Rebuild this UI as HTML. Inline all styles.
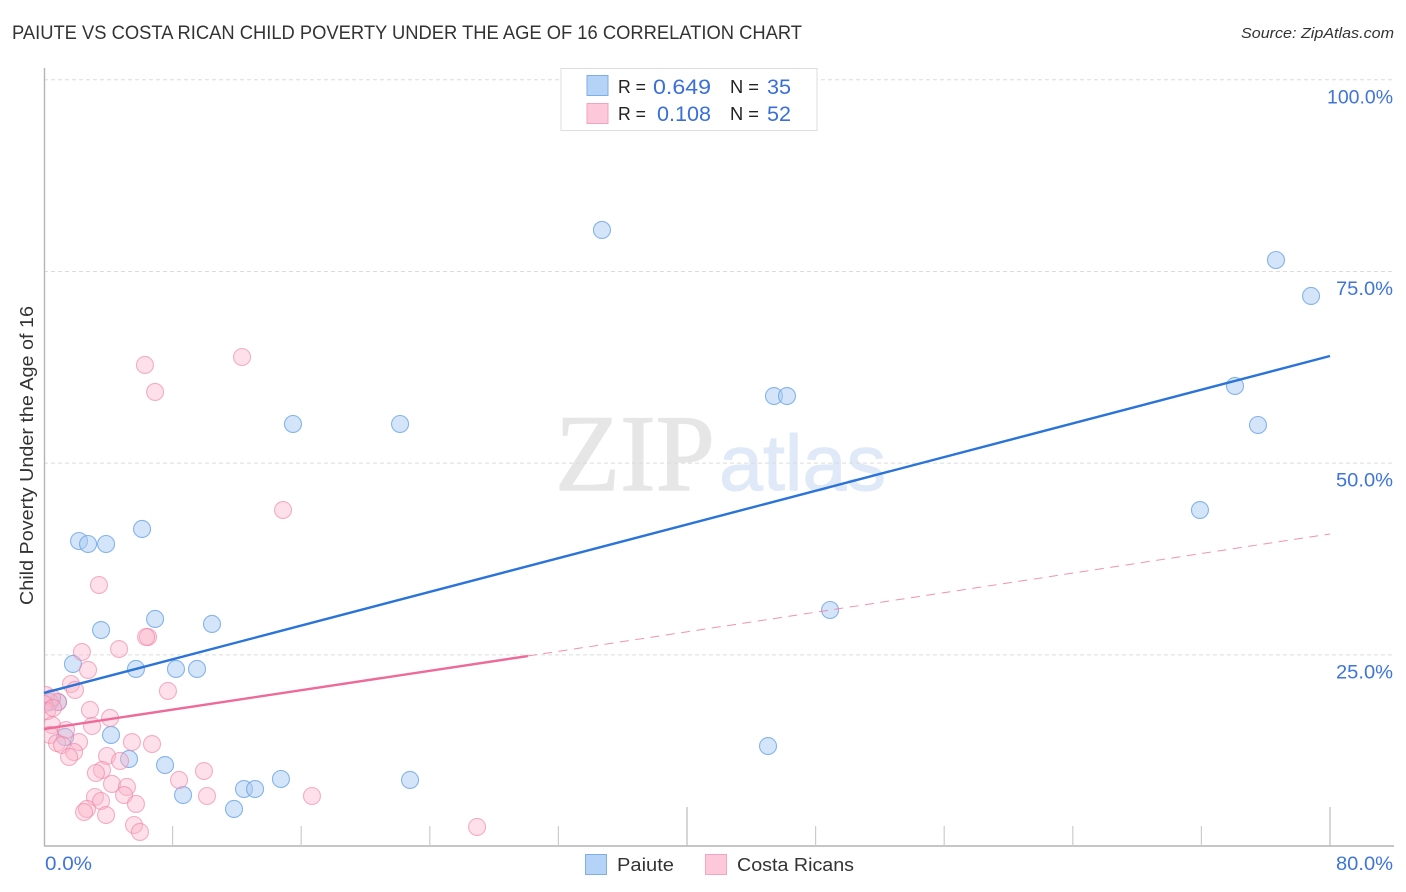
<!DOCTYPE html>
<html lang="en">
<head>
<meta charset="utf-8">
<title>Paiute vs Costa Rican Child Poverty Correlation Chart</title>
<style>
html,body{margin:0;padding:0;background:#fff;}
body{width:1406px;height:892px;overflow:hidden;}
svg{display:block;font-family:"Liberation Sans",sans-serif;}
</style>
</head>
<body>
<svg id="chart" xmlns="http://www.w3.org/2000/svg" width="1406" height="892" viewBox="0 0 1406 892">
  <defs>
    <clipPath id="plot-clip"><rect x="44" y="68" width="1350" height="778"></rect></clipPath>
  </defs>
  <rect x="0" y="0" width="1406" height="892" fill="#ffffff"></rect>
  <text x="12" y="39" font-size="19" fill="#333" textLength="790" lengthAdjust="spacingAndGlyphs">PAIUTE VS COSTA RICAN CHILD POVERTY UNDER THE AGE OF 16 CORRELATION CHART</text>
  <text x="1241" y="38" font-size="15" font-style="italic" fill="#333" textLength="153" lengthAdjust="spacingAndGlyphs">Source: ZipAtlas.com</text>
  <text x="555" y="490" font-family="'Liberation Serif',serif" font-size="109" fill="#e6e6e6" stroke="#e6e6e6" stroke-width="1.2" textLength="160" lengthAdjust="spacingAndGlyphs">ZIP</text>
  <text x="719" y="490" font-size="79" fill="#dfe9f8" stroke="#dfe9f8" stroke-width="1" textLength="167" lengthAdjust="spacingAndGlyphs">atlas</text>
  <g id="grid"></g>
  <g id="axes"></g>
  <g id="marks-blue" clip-path="url(#plot-clip)"></g>
  <g id="marks-pink" clip-path="url(#plot-clip)"></g>
  <g id="trends"></g>
  <g id="tick-labels"></g>
  <text transform="translate(33,605) rotate(-90)" x="0" y="0" font-size="18" fill="#333" textLength="299" lengthAdjust="spacingAndGlyphs">Child Poverty Under the Age of 16</text>

  <g>
    <rect x="561" y="68.5" width="256" height="62" fill="#fff" stroke="#dddddd"></rect>
    <rect x="587" y="75.5" width="21" height="20" fill="#b5d2f7" stroke="#7eaee6"></rect>
    <rect x="587" y="103.5" width="21" height="20" fill="#fdc9da" stroke="#f3a4be"></rect>
    <text x="618" y="93" font-size="18" fill="#222" textLength="28" lengthAdjust="spacingAndGlyphs">R =</text>
    <text x="653" y="94" font-size="21" fill="#3a6fd8" textLength="58" lengthAdjust="spacingAndGlyphs">0.649</text>
    <text x="730" y="93" font-size="18" fill="#222" textLength="29" lengthAdjust="spacingAndGlyphs">N =</text>
    <text x="767" y="94" font-size="21" fill="#3a6fd8" textLength="24" lengthAdjust="spacingAndGlyphs">35</text>
    <text x="618" y="120" font-size="18" fill="#222" textLength="28" lengthAdjust="spacingAndGlyphs">R =</text>
    <text x="657" y="121" font-size="21" fill="#3a6fd8" textLength="54" lengthAdjust="spacingAndGlyphs">0.108</text>
    <text x="730" y="120" font-size="18" fill="#222" textLength="29" lengthAdjust="spacingAndGlyphs">N =</text>
    <text x="767" y="121" font-size="21" fill="#3a6fd8" textLength="24" lengthAdjust="spacingAndGlyphs">52</text>
  </g>

  <g>
    <rect x="585.5" y="854.5" width="21" height="20" fill="#b5d2f7" stroke="#7eaee6"></rect>
    <text x="617" y="871" font-size="18" fill="#333" textLength="57" lengthAdjust="spacingAndGlyphs">Paiute</text>
    <rect x="705.5" y="854.5" width="21" height="20" fill="#fdc9da" stroke="#f3a4be"></rect>
    <text x="737" y="871" font-size="18" fill="#333" textLength="117" lengthAdjust="spacingAndGlyphs">Costa Ricans</text>
  </g>
</svg>
<script>
const xTickValues = [0, 8, 16, 24, 32, 40, 48, 56, 64, 72, 80];
const yTickValues = [25, 50, 75, 100];
const yGridValues = [25, 50, 75, 100];
const yTickLabels = ["25.0%", "50.0%", "75.0%", "100.0%"];
const xEndLabels = ["0.0%", "80.0%"];
const xEndValues = [0, 80];

const paiuteX = [34.71,76.64,78.82,74.09,45.41,46.22,15.49,22.15,75.52,71.91,6.10,2.18,2.74,3.86,48.90,6.91,10.45,3.55,1.80,5.72,8.21,9.52,0.87,0.37,1.31,4.17,5.29,7.53,8.65,11.82,12.44,13.13,14.74,45.04,22.77];
const paiuteY = [80.35,76.43,71.74,60.00,58.69,58.69,55.04,55.04,54.91,43.82,41.35,39.78,39.39,39.39,30.78,29.61,28.96,28.17,23.74,23.09,23.09,23.09,18.78,18.78,14.22,14.48,11.35,10.56,6.65,4.83,7.43,7.43,8.74,13.04,8.61];

const costaX = [12.32,6.28,6.91,14.87,3.42,6.47,6.35,4.67,2.36,2.74,1.68,1.93,7.71,0.87,2.86,4.11,2.99,0.50,1.37,0.37,0.81,1.12,2.18,1.87,1.56,5.47,6.72,3.92,4.73,3.61,3.23,4.23,5.16,4.98,5.72,3.17,3.55,2.67,2.49,3.86,5.60,5.97,8.40,9.95,10.14,16.67,26.94,0.12,0.50,0.00,0.19,0.56];
const costaY = [63.78,62.74,59.22,43.82,34.04,27.26,27.26,25.69,25.30,22.96,21.13,20.35,20.22,18.78,17.74,16.70,15.65,15.78,15.13,14.48,13.43,13.17,13.56,12.26,11.61,13.56,13.30,11.74,11.09,9.91,9.52,8.09,7.70,6.65,5.48,6.39,5.87,4.83,4.43,4.04,2.74,1.83,8.61,9.78,6.52,6.52,2.48,19.69,19.30,18.52,17.61,18.00];

const paiuteTrendX = [0, 80];
const paiuteTrendY = [19.96, 63.91];
const costaSolidX = [0, 30.1];
const costaSolidY = [15.26, 24.78];
const costaDashedX = [30.1, 80];
const costaDashedY = [24.78, 40.7];

const NS = "http://www.w3.org/2000/svg";
function xScale(v) { return 44 + v * 16.075; }
function yScale(v) { return 846 - v * 7.667; }
function mk(tag, attrs, parent) {
  const el = document.createElementNS(NS, tag);
  for (const k in attrs) el.setAttribute(k, attrs[k]);
  parent.appendChild(el);
  return el;
}

const grid = document.getElementById("grid");
yGridValues.forEach(function (v) {
  const l = mk("line", { x1: 44, x2: 1394, y1: yScale(v) + 0.5, y2: yScale(v) + 0.5, stroke: "#dcdcdc", "stroke-width": 1, "stroke-dasharray": "4 3" }, grid);
  
  
});

const axes = document.getElementById("axes");
const yAxisLine = mk("line", { x1: 44.5, x2: 44.5, y1: 68, y2: 846, stroke: "#b4b4b4", "stroke-width": 1.4 }, axes);


const xAxisLine = mk("line", { x1: 44, x2: 1394, y1: 846, y2: 846, stroke: "#b4b4b4", "stroke-width": 1.4 }, axes);


xTickValues.forEach(function (v) {
  if (v === 0) return;
  const major = v === 40 || v === 80;
  const t = mk("line", { x1: xScale(v), x2: xScale(v), y1: major ? 807 : 826, y2: 846, stroke: major ? "#bcbcbc" : "#cccccc", "stroke-width": 1.2 }, axes);
  
  
});

const tickLabels = document.getElementById("tick-labels");
yTickValues.forEach(function (v, i) {
  const wide = yTickLabels[i].length > 5;
  const t = mk("text", { x: wide ? 1327 : 1336, y: yScale(v) + 24, "font-size": 19, fill: "#3f74da", textLength: wide ? 66 : 57, lengthAdjust: "spacingAndGlyphs" }, tickLabels);
  t.textContent = yTickLabels[i];
  
  
});
xEndValues.forEach(function (v, i) {
  const t = mk("text", { x: i === 0 ? xScale(v) + 1 : 1336, y: 870, "font-size": 19, fill: "#3f74da", textLength: i === 0 ? 47 : 57, lengthAdjust: "spacingAndGlyphs" }, tickLabels);
  t.textContent = xEndLabels[i];
  
  
});

const blueG = document.getElementById("marks-blue");
paiuteX.forEach(function (v, i) {
  const c = mk("circle", { cx: xScale(v), cy: yScale(paiuteY[i]), r: 8.5, fill: "#a9cbf3", "fill-opacity": 0.5, stroke: "#6aa4e5", "stroke-opacity": 0.8, "stroke-width": 1.1 }, blueG);
  
  
});
const pinkG = document.getElementById("marks-pink");
costaX.forEach(function (v, i) {
  const c = mk("circle", { cx: xScale(v), cy: yScale(costaY[i]), r: 8.5, fill: "#fbb6cb", "fill-opacity": 0.42, stroke: "#ee7fa3", "stroke-opacity": 0.6, "stroke-width": 1.1 }, pinkG);
  
  
});

const trends = document.getElementById("trends");
const t1 = mk("line", { x1: xScale(paiuteTrendX[0]), y1: yScale(paiuteTrendY[0]), x2: xScale(paiuteTrendX[1]), y2: yScale(paiuteTrendY[1]), stroke: "#2a73d8", "stroke-width": 2.4 }, trends);


const t2 = mk("line", { x1: xScale(costaSolidX[0]), y1: yScale(costaSolidY[0]), x2: xScale(costaSolidX[1]), y2: yScale(costaSolidY[1]), stroke: "#ee6a98", "stroke-width": 2.4 }, trends);


const t3 = mk("line", { x1: xScale(costaDashedX[0]), y1: yScale(costaDashedY[0]), x2: xScale(costaDashedX[1]), y2: yScale(costaDashedY[1]), stroke: "#ee7fa3", "stroke-width": 1, "stroke-dasharray": "9 6.5", "stroke-opacity": 0.85 }, trends);


</script>
</body>
</html>
